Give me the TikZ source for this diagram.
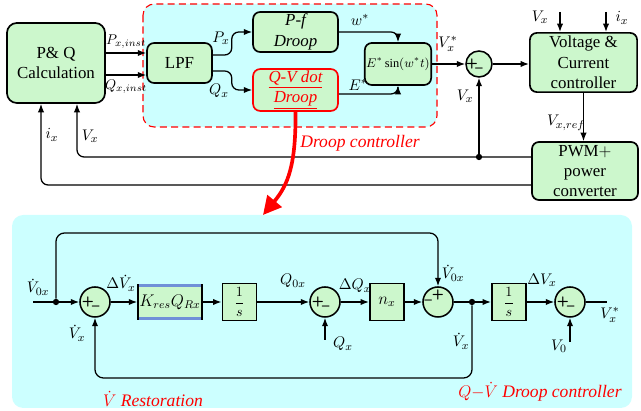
\documentclass[tikz,border=0pt,12pt]{standalone}
\usepackage{amsmath}
\usepackage{fontspec}
\setmainfont{Liberation Serif}
\usetikzlibrary{arrows.meta, positioning, calc}
\usepackage{xcolor}
\definecolor{BlockFill}{HTML}{CCF7CC}
\definecolor{ZoneFill}{HTML}{CCFFFF}
\definecolor{KresEdge}{HTML}{7090D8}

\begin{document}
\begin{tikzpicture}[x=0.025cm, y=-0.025cm,
    block/.style={rectangle, draw=black, line width=1.2pt, fill=BlockFill, rounded corners=5pt, align=center, inner sep=1pt, font=\normalsize},
    tfblock/.style={rectangle, draw=black, line width=1.1pt, fill=BlockFill, minimum width=0.86cm, minimum height=0.92cm, inner sep=1pt},
    sgn/.style={font=\sffamily\bfseries\footnotesize, inner sep=0pt},
    sumnode/.style={circle, draw=black, line width=1.1pt, fill=BlockFill, minimum size=0.75cm, inner sep=0pt},
    pm/.style={sumnode, label={[sgn, xshift=-5pt]center:+}, label={[sgn, xshift=0.5pt, yshift=-4.5pt]center:–}},
    mp/.style={sumnode, label={[sgn, yshift=5pt]center:+}, label={[sgn, xshift=-7pt]center:–}},
    arrow/.style={-{Latex[length=6pt, width=4.5pt]}, line width=0.9pt},
    wire/.style={line width=0.9pt},
    lbl/.style={font=\small, inner sep=1pt},
    redlbl/.style={font=\fontsize{12.5}{15}\selectfont\itshape, text=red, inner sep=1pt},
    redarrow/.style={-{Triangle[length=13pt, width=13pt]}, line width=2.6pt, red},
    dot/.style={circle, fill=black, inner sep=0pt, minimum size=4.5pt}
  ]
  \useasboundingbox (0,0) rectangle (641,411);

  % Backgrounds
  \draw[red, dash pattern=on 5pt off 3pt, line width=0.8pt, fill=ZoneFill, rounded corners=8pt] (143,4) rectangle (437,127);
  \fill[ZoneFill, rounded corners=8pt] (12,215) rectangle (632,408);

  % Power calculation and droop blocks
  \node[block, minimum width=2.45cm, minimum height=2cm, rounded corners=7pt] (pq) at (56,63) {P\& Q\\Calculation};
  \node[block, minimum width=1.62cm, minimum height=1cm] (lpf) at (179.5,63) {LPF};
  \node[block, minimum width=2.12cm, minimum height=1cm, font=\itshape] (pf) at (295.5,32) {P-f\\Droop};
  \node[block, draw=red, minimum width=2.12cm, minimum height=1cm, font=\itshape, text=red] (qv) at (295.5,90) {\underline{Q-V dot}\\\underline{Droop}};
  \node[block, minimum width=1.58cm, minimum height=1.05cm, font=\fontsize{8.8}{10}\selectfont] (esin) at (398,64) {$E^{*}\sin(w^{*}t)$};
  \node[sumnode, minimum size=0.65cm, label={[sgn, xshift=-5pt]center:+}, label={[sgn, yshift=-4.3pt]center:–}] (vsum) at (479,64) {};

  % Inner loops
  \node[block, minimum width=2.68cm, minimum height=1.48cm] (vc) at (583.5,62.5) {Voltage \&\\Current\\controller};
  \node[block, minimum width=2.65cm, minimum height=1.45cm] (pwm) at (585,171) {PWM$+$\\power\\converter};

  % Top connections
  \draw[arrow] ([yshift=0.25cm]pq.east) -- node[lbl, font=\footnotesize, above=2pt] (pxi) {$P_{x,inst}$} ([yshift=0.25cm]lpf.west);
  \draw[arrow] ([yshift=-0.3cm]pq.east) -- node[lbl, font=\footnotesize, below=2pt] (qxi) {$Q_{x,inst}$} ([yshift=-0.3cm]lpf.west);
  \draw[arrow, rounded corners=5pt] ([yshift=0.2cm]lpf.east) -- ++(19,0) |- (pf.west);
  \draw[arrow, rounded corners=5pt] ([yshift=-0.2cm]lpf.east) -- ++(19,0) |- (qv.west);
  \node[lbl] (pxl) at (221,38) {$P_x$};
  \node[lbl] (qxl) at (219,91) {$Q_x$};
  \draw[arrow, rounded corners=5pt] (pf.east) -| (esin.north);
  \draw[arrow, rounded corners=5pt] ([yshift=-0.1cm]qv.east) -| (esin.south);
  \node[lbl] (wl) at (360,20) {$w^{*}$};
  \node[lbl] (el) at (358,85) {$E^{*}$};
  \draw[arrow] (esin.east) -- (vsum.west);
  \node[lbl] (vxs) at (448,44) {$V_x^{*}$};
  \draw[arrow] (vsum.east) -- (vsum.east -| vc.west);
  \coordinate (vxin) at (560,12);
  \draw[arrow] (vxin) -- (vxin |- vc.north);
  \node[lbl] (vxt) at (540,17) {$V_x$};
  \coordinate (ixin) at (606,12);
  \draw[arrow] (ixin) -- (ixin |- vc.north);
  \node[lbl] (ixt) at (622,18) {$i_x$};
  \draw[arrow] (vc.south) -- (vc.south |- pwm.north);
  \node[lbl] (vref) at (566,123) {$V_{x,ref}$};

  % Feedback buses
  \draw[arrow, rounded corners=5pt] ([yshift=0.35cm]pwm.west) -| ([xshift=0.525cm]pq.south);
  \draw[arrow, rounded corners=5pt] ([yshift=-0.35cm]pwm.west) -| ([xshift=-0.375cm]pq.south);
  \node[dot] (vtap) at (479,157) {};
  \draw[arrow] (vtap) -- (vsum.south);
  \node[lbl] (vxb) at (465,96) {$V_x$};
  \node[lbl] (vxp) at (90,136) {$V_x$};
  \node[lbl] (ixp) at (52,135) {$i_x$};
  \node[redlbl] (droopl) at (360,143) {Droop controller};
  \coordinate (zoomtip) at (263,215);
  \draw[redarrow] (qv.south) .. controls (296,165) and (288,185) .. (zoomtip);

  % Q-V dot droop detail
  \coordinate (vin) at (33,302);
  \node[dot] (tapa) at (56,302) {};
  \node[pm] (sumv) at (95,302) {};
  \node[tfblock, minimum width=1.6cm, minimum height=0.88cm] (kres) at (170,302) {$K_{res}Q_{Rx}$};
  \draw[KresEdge, line width=2pt] ([xshift=1pt, yshift=-1.2pt]kres.north west) -- ([xshift=-1pt, yshift=-1.2pt]kres.north east);
  \draw[KresEdge, line width=2pt] ([xshift=1pt, yshift=1.2pt]kres.south west) -- ([xshift=-1pt, yshift=1.2pt]kres.south east);
  \node[tfblock, font=\footnotesize] (intq) at (239.5,302) {$\dfrac{1}{s}$};
  \node[pm] (sumq) at (325,302) {};
  \node[tfblock] (nx) at (387,302) {$n_x$};
  \node[mp] (sumd) at (438,302) {};
  \node[dot] (tapb) at (472,302) {};
  \node[tfblock, font=\footnotesize] (intv) at (509,302) {$\dfrac{1}{s}$};
  \node[pm] (sumo) at (570,302) {};
  \coordinate (vout) at (607,302);
  \coordinate (qin) at (325,340);
  \coordinate (v0in) at (570,342);

  \draw[wire] (vin) -- (tapa);
  \draw[arrow] (tapa) -- (sumv);
  \draw[arrow, rounded corners=6pt] (tapa) -- ++(0,-69) -| (sumd.north);
  \draw[arrow] (sumv) -- (kres);
  \draw[arrow] (kres) -- (intq);
  \draw[arrow] (intq) -- (sumq);
  \draw[arrow] (qin) -- (sumq);
  \draw[arrow] (sumq) -- (nx);
  \draw[arrow] (nx) -- (sumd);
  \draw[wire] (sumd) -- (tapb);
  \draw[arrow] (tapb) -- (intv);
  \draw[arrow, rounded corners=6pt] (tapb) -- ++(0,76) -| (sumv.south);
  \draw[arrow] (intv) -- (sumo);
  \draw[arrow] (v0in) -- (sumo);
  \draw[wire] (sumo) -- (vout);

  \node[lbl] (v0x) at (38,287) {$\dot{V}_{0x}$};
  \node[lbl] (dvx) at (121,283) {$\Delta\dot{V}_x$};
  \node[lbl] (vxa) at (77,333) {$\dot{V}_x$};
  \node[lbl] (q0x) at (293,281) {$Q_{0x}$};
  \node[lbl] (qxb) at (343,344) {$Q_x$};
  \node[lbl] (dqx) at (355,286) {$\Delta Q_x$};
  \node[lbl] (v0xb) at (453,273) {$\dot{V}_{0x}$};
  \node[lbl] (vxc) at (461,341) {$\dot{V}_x$};
  \node[lbl] (dvxb) at (542,280) {$\Delta V_x$};
  \node[lbl] (v0) at (559,346) {$V_0$};
  \node[lbl] (vxo) at (610,315) {$V_x^{*}$};
  \node[redlbl] (restl) at (153,399) {$\dot{V}$ Restoration};
  \node[redlbl] (droopb) at (540,392) {$Q{-}\dot{V}$ Droop controller};
\end{tikzpicture}
\end{document}
